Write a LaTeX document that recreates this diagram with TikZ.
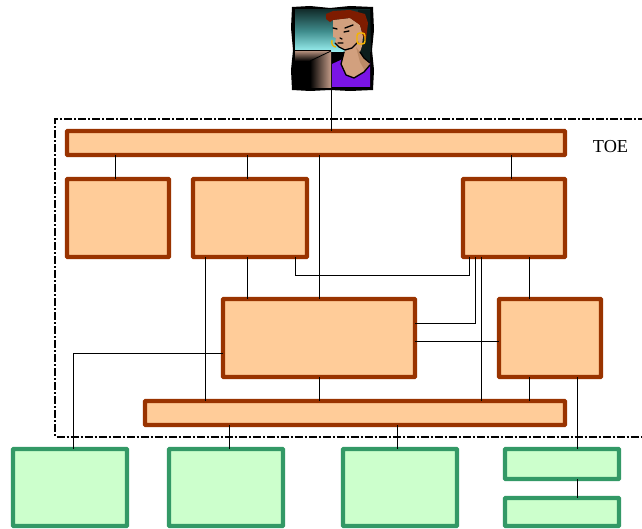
\documentclass[tikz,border=0pt]{standalone}
\usepackage{fontspec}
\setmainfont{Liberation Serif}
\definecolor{peachfill}{HTML}{FFCC99}
\definecolor{peachline}{HTML}{993300}
\definecolor{greenfill}{HTML}{CCFFCC}
\definecolor{greenline}{HTML}{339966}
\definecolor{skin}{HTML}{D2A07E}
\definecolor{skindark}{HTML}{BC8A66}
\definecolor{hair}{HTML}{7E1C00}
\definecolor{shirt}{HTML}{7A14E6}
\definecolor{gold}{HTML}{F5B400}
\definecolor{deskt}{HTML}{C49C88}
\definecolor{skytop}{HTML}{14302F}
\definecolor{skymid}{HTML}{3F8C8C}
\definecolor{skylow}{HTML}{9CF2F2}
\tikzset{
  px/.style={x=0.75pt,y=-0.75pt},
  boxbase/.style={rectangle,rounded corners=0.6pt,line width=3.3pt,outer sep=0pt,inner sep=0pt},
  peach/.style={boxbase,draw=peachline,fill=peachfill},
  leaf/.style={boxbase,draw=greenline,fill=greenfill},
  wire/.style={draw=black,line width=0.75pt},
  frameline/.style={draw=black,line width=1.5pt,dash pattern=on 6pt off 1.5pt on 1.5pt off 1.5pt},
  ink/.style={draw=black,line width=1pt,line join=round,line cap=round}
}
\newcommand{\rbox}[6]{\node[#1,minimum width={(#5-#3)*0.75pt},minimum height={(#6-#4)*0.75pt}] (#2) at ({(#3+#5)/2},{(#4+#6)/2}) {};}
\begin{document}
\begin{tikzpicture}[px]
\useasboundingbox (0,0) rectangle (642,528);
\clip (0,0) rectangle (642,528);
% dashed frame, running past the right edge
\draw[frameline] (660,119) -- (55,119) -- (55,436.5) -- (660,436.5);
% portrait
\begin{scope}
  \fill[black] (292,7) -- (310,6) -- (330,8) -- (350,6) -- (373,7) -- (374,30) -- (372,50) -- (374,70) -- (373,90) -- (350,91) -- (330,90) -- (310,91) -- (292,90) -- (291,70) -- (293,50) -- (291,28) -- cycle;
  \shade[top color=skytop,bottom color=skylow,middle color=skymid] (295,10) rectangle (370,52);
  \fill[skytop!60!black] (358,10) rectangle (370,64);
  % shirt
  \fill[shirt] (332,64) -- (345,58) -- (360,60) -- (370,62) -- (370,87) -- (332,87) -- cycle;
  % neck and face
  \fill[skin] (333,20) -- (350,18) -- (360,25) -- (363,36) -- (362,46) -- (360,52) -- (364,58) -- (370,63) -- (364,72) -- (354,78) -- (346,75) -- (341,64) -- (344,54) -- (345,50) -- (339,47) -- (335,43) -- (336,38) -- (333,37) -- cycle;
  \fill[skindark] (356,47) -- (360,52) -- (364,58) -- (370,63) -- (365,71) -- (360,62) -- cycle;
  \draw[ink] (335,43) -- (339,47) -- (345,50) -- (352,48) -- (358,42);
  \draw[ink] (344,52) -- (341,64) -- (346,75) -- (354,78) -- (364,72) -- (370,65);
  \draw[ink] (360,52) -- (364,58) -- (370,63);
  \draw[ink] (345,28) -- (353,25) (344,32) -- (349,31) (333,28) -- (337,29) (338,43) -- (343,43) (340,38) -- (342,39);
  % hair
  \fill[hair] (326,14) -- (333,11) -- (350,10) -- (365,14) -- (368,23) -- (366,40) -- (363,36) -- (360,25) -- (350,18) -- (333,20) -- (330,22) -- (326,19) -- cycle;
  % earrings
  \draw[gold,line width=1.1pt,rounded corners=2pt] (357,33) rectangle (365,44);
  \draw[gold,line width=1pt] (332,40) .. controls (331,44) and (333,47) .. (336,47);
  % desk
  \fill[deskt] (295,50) -- (331,50) -- (331,87) -- (295,87) -- cycle;
  \shade[top color=deskt,bottom color=black] (295,50) -- (330,51) -- (310,61) -- (295,61) -- cycle;
  \shade[left color=black,right color=deskt] (310,61) -- (331,51) -- (331,88) -- (310,88) -- cycle;
  \fill[black] (294,61) rectangle (310,88);
  \draw[black,line width=0.6pt] (293,50) -- (331,50);
  \draw[black,line width=0.6pt] (310,61) -- (331,51);
\end{scope}
\node[inner sep=0pt,outer sep=0pt,minimum width={81*0.75pt},minimum height={83*0.75pt}] (portrait) at (332.5,48.5) {};
% boxes
\rbox{peach}{topbar}{67}{131}{565}{155}
\rbox{peach}{a}{67}{179}{169}{257}
\rbox{peach}{b}{193}{179}{307}{257}
\rbox{peach}{c}{463}{179}{565}{257}
\rbox{peach}{d}{223}{299}{415}{377}
\rbox{peach}{e}{499}{299}{601}{377}
\rbox{peach}{botbar}{145}{401}{565}{425}
\rbox{leaf}{g}{13}{449}{127}{526}
\rbox{leaf}{h}{169}{449}{283}{526}
\rbox{leaf}{i}{343}{449}{457}{526}
\rbox{leaf}{j}{505}{449}{619}{479}
\rbox{leaf}{k}{505}{498}{619}{526}
% connectors
\draw[wire] (portrait.south -| 331,0) -- (topbar.north -| 331,0);
\draw[wire] (topbar.south -| 115,0) -- (a.north -| 115,0);
\draw[wire] (topbar.south -| 247,0) -- (b.north -| 247,0);
\draw[wire] (topbar.south -| 319.7,0) -- (d.north -| 319.7,0);
\draw[wire] (topbar.south -| 511,0) -- (c.north -| 511,0);
\draw[wire] (b.south -| 205,0) -- (botbar.north -| 205,0);
\draw[wire] (b.south -| 247,0) -- (d.north -| 247,0);
\draw[wire] (b.south -| 295,0) |- (469,275) -- (c.south -| 469,0);
\draw[wire] (c.south -| 475,0) |- (d.east |- 0,323);
\draw[wire] (c.south -| 481,0) -- (botbar.north -| 481,0);
\draw[wire] (c.south -| 529,0) -- (e.north -| 529,0);
\draw[wire] (d.east |- 0,341) -- (e.west |- 0,341);
\draw[wire] (d.south -| 319.7,0) -- (botbar.north -| 319.7,0);
\draw[wire] (e.south -| 529,0) -- (botbar.north -| 529,0);
\draw[wire] (e.south -| 577,0) -- (j.north -| 577,0);
\draw[wire] (j.south -| 577,0) -- (k.north -| 577,0);
\draw[wire] (d.west |- 0,353) -| (g.north -| 73,0);
\draw[wire] (botbar.south -| 229,0) -- (h.north -| 229,0);
\draw[wire] (botbar.south -| 397,0) -- (i.north -| 397,0);
\node[font=\fontsize{13.7pt}{15pt}\selectfont,inner sep=0pt] (toe) at (610.5,146.8) {TOE};
\end{tikzpicture}
\end{document}
